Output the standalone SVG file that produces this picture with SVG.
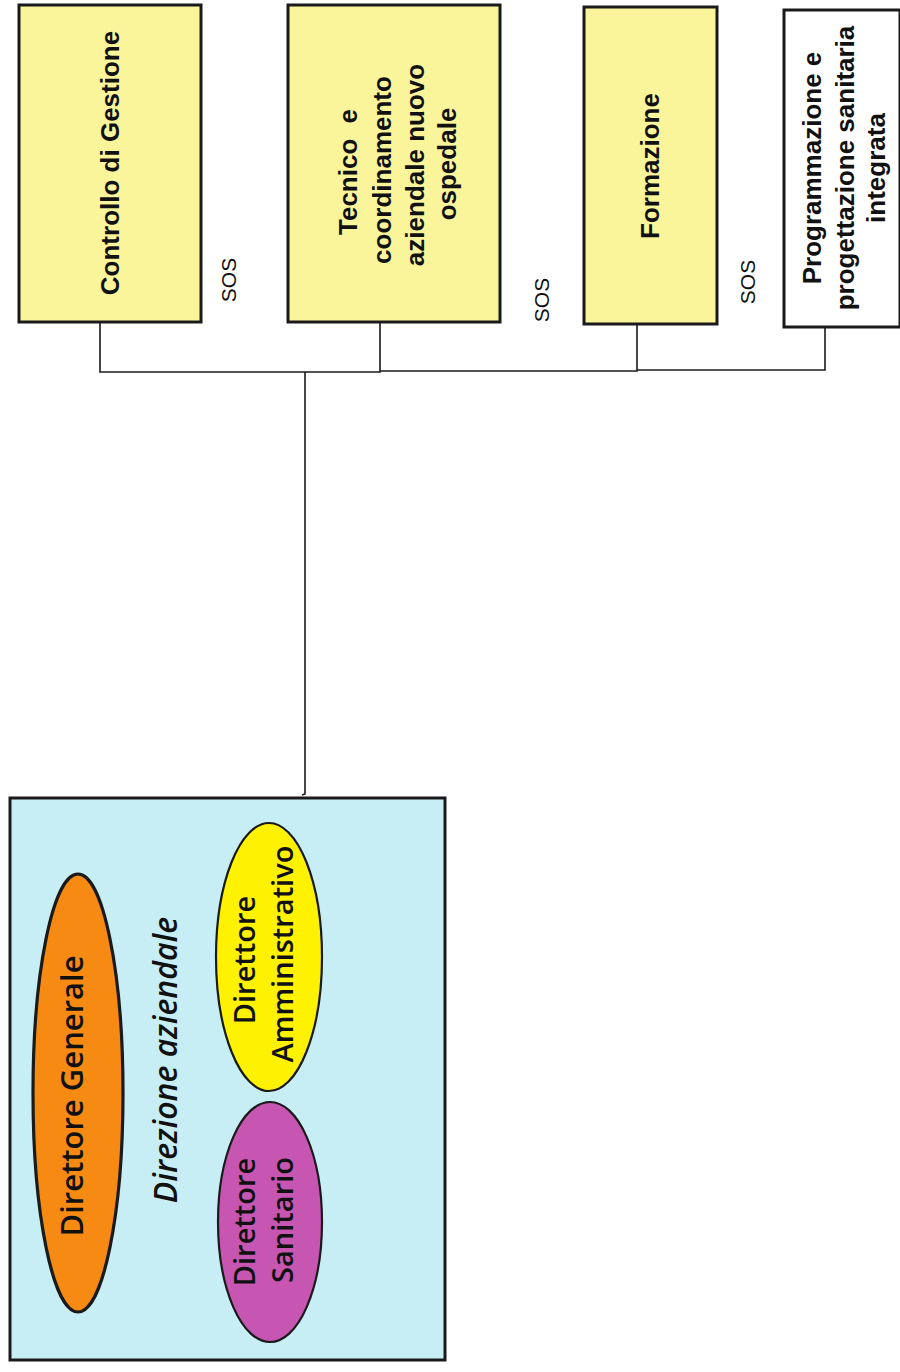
<svg xmlns="http://www.w3.org/2000/svg" width="900" height="1372" viewBox="0 0 900 1372">
<style>
.box{stroke:#1a1a1a;stroke-width:3}
.yel{fill:#FAF59B}
.wht{fill:#ffffff}
.bt{font-family:"Liberation Sans",Arial,sans-serif;font-weight:bold;font-size:26px;fill:#111;text-anchor:middle}
.sos{font-family:"Liberation Sans",Arial,sans-serif;font-size:21px;fill:#111;text-anchor:middle}
.et{font-family:"Open Sans","Noto Sans",sans-serif;font-weight:600;font-size:29px;fill:#111;text-anchor:middle}
.conn{stroke:#1a1a1a;stroke-width:1.6;fill:none}
.ell{stroke:#1a1a1a;stroke-width:2.2}
</style>
<rect width="900" height="1372" fill="#ffffff"/>
<g id="connectors">
<polyline class="conn" points="100,323 100,372 380,372 380,323"/>
<polyline class="conn" points="380,371 637,371 637,325"/>
<polyline class="conn" points="637,370 825,370 825,328"/>
<polyline class="conn" points="305,372 305,794 302,795"/>
</g>
<g id="controllo">
<rect class="box yel" x="19" y="5" width="182" height="317"/>
<text class="bt" transform="translate(119,163) rotate(-90)">Controllo di Gestione</text>
</g>
<g id="sos1"><text class="sos" transform="translate(236,280) rotate(-90)">SOS</text></g>
<g id="tecnico">
<rect class="box yel" x="288" y="5" width="212" height="317"/>
<text class="bt" transform="translate(357,172) rotate(-90)" style="word-spacing:8px">Tecnico e</text>
<text class="bt" transform="translate(391,170) rotate(-90)">coordinamento</text>
<text class="bt" transform="translate(424,165) rotate(-90)">aziendale nuovo</text>
<text class="bt" transform="translate(456,164) rotate(-90)">ospedale</text>
</g>
<g id="sos2"><text class="sos" transform="translate(549,300) rotate(-90)">SOS</text></g>
<g id="formazione">
<rect class="box yel" x="584" y="7" width="133" height="317"/>
<text class="bt" transform="translate(659,166) rotate(-90)">Formazione</text>
</g>
<g id="sos3"><text class="sos" transform="translate(755,282) rotate(-90)">SOS</text></g>
<g id="programmazione">
<rect class="box wht" x="784" y="10" width="116" height="317"/>
<text class="bt" transform="translate(821,168) rotate(-90)">Programmazione e</text>
<text class="bt" transform="translate(854,168) rotate(-90)">progettazione sanitaria</text>
<text class="bt" transform="translate(885,168) rotate(-90)">integrata</text>
</g>
<g id="direzione">
<rect class="box" x="10" y="798" width="435" height="562" fill="#C8EEF5"/>
<text class="et" style="font-style:italic;font-size:32px" transform="translate(177,1060) rotate(-90)">Direzione aziendale</text>
</g>
<g id="generale">
<ellipse class="ell" style="stroke-width:3.2" cx="78" cy="1093" rx="45" ry="219" fill="#F78A12"/>
<text class="et" style="font-size:31px" transform="translate(83,1096) rotate(-90)">Direttore Generale</text>
</g>
<g id="amministrativo">
<ellipse class="ell" cx="269" cy="957" rx="53" ry="134" fill="#FFF200"/>
<text class="et" transform="translate(255,960) rotate(-90)">Direttore</text>
<text class="et" transform="translate(293,954) rotate(-90)">Amministrativo</text>
</g>
<g id="sanitario">
<ellipse class="ell" cx="270" cy="1222" rx="52" ry="120" fill="#C656B2"/>
<text class="et" transform="translate(255,1222) rotate(-90)">Direttore</text>
<text class="et" transform="translate(293,1220) rotate(-90)">Sanitario</text>
</g>
</svg>
